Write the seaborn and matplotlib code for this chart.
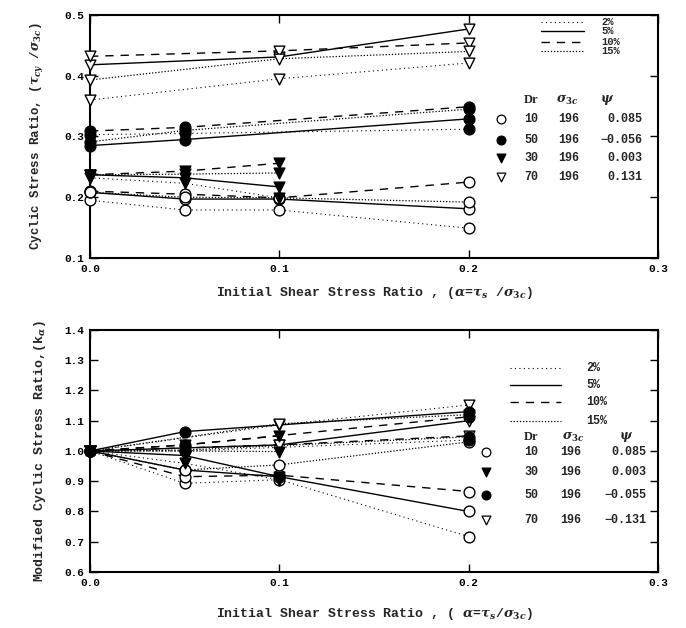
import numpy as np
import pandas as pd
import matplotlib
matplotlib.use('Agg')
import matplotlib.pyplot as plt
import seaborn as sns

### values
strains = ['2%', '5%', '10%', '15%']

# alpha positions for each relative density
alpha_dr10 = [0.0, 0.05, 0.1, 0.2]
alpha_dr50 = [0.0, 0.05, 0.2]
alpha_dr30 = [0.0, 0.05, 0.1]
alpha_dr70 = [0.0, 0.1, 0.2]

# cyclic stress ratio (top panel)
csr_dr10 = {'2%': [0.195, 0.179, 0.179, 0.149], '5%': [0.208, 0.197, 0.197, 0.181],
            '10%': [0.210, 0.205, 0.199, 0.225], '15%': [0.208, 0.200, 0.199, 0.192]}
csr_dr50 = {'2%': [0.303, 0.305, 0.312], '5%': [0.285, 0.295, 0.329],
            '10%': [0.309, 0.315, 0.349], '15%': [0.291, 0.310, 0.345]}
csr_dr30 = {'2%': [0.232, 0.223, 0.199], '5%': [0.237, 0.232, 0.217],
            '10%': [0.237, 0.243, 0.256], '15%': [0.237, 0.238, 0.240]}
csr_dr70 = {'2%': [0.360, 0.395, 0.421], '5%': [0.418, 0.431, 0.477],
            '10%': [0.432, 0.441, 0.454], '15%': [0.393, 0.428, 0.440]}

# modified cyclic stress ratio k_alpha (bottom panel)
ka_dr10 = {'2%': [1.0, 0.893, 0.905, 0.717], '5%': [1.0, 0.937, 0.915, 0.800],
           '10%': [1.0, 0.915, 0.920, 0.866], '15%': [1.0, 0.937, 0.954, 1.030]}
ka_dr30 = {'2%': [1.0, 0.959, 0.905], '5%': [1.0, 0.985, 0.915],
           '10%': [1.0, 1.020, 1.050], '15%': [1.0, 1.000, 0.998]}
ka_dr50 = {'2%': [1.0, 1.000, 1.036], '5%': [1.0, 1.064, 1.130],
           '10%': [1.0, 1.020, 1.113], '15%': [1.0, 1.003, 1.047]}
ka_dr70 = {'2%': [1.0, 1.086, 1.152], '5%': [1.0, 1.020, 1.100],
           '10%': [1.0, 1.020, 1.050], '15%': [1.0, 1.090, 1.120]}

top_rows = [('10', '196', '0.085'), ('50', '196', '\u22120.056'),
            ('30', '196', '0.003'), ('70', '196', '0.131')]
bot_rows = [('10', '196', '0.085'), ('30', '196', '0.003'),
            ('50', '196', '\u22120.055'), ('70', '196', '\u22120.131')]
top_row_dr = [10, 50, 30, 70]
bot_row_dr = [10, 30, 50, 70]

xticks = [0.0, 0.1, 0.2, 0.3]
top_yticks = [0.1, 0.2, 0.3, 0.4, 0.5]
bot_yticks = [0.6, 0.7, 0.8, 0.9, 1.0, 1.1, 1.2, 1.3, 1.4]

# styles
dash_map = {'2%': (1, 3), '5%': '', '10%': (6, 5), '15%': (1, 1.5)}
lw_map = {'2%': 0.8, '5%': 1.0, '10%': 1.0, '15%': 0.9}
mk = {10: ('o', 'white'), 50: ('o', 'black'), 30: ('v', 'black'), 70: ('v', 'white')}
alphas = {10: alpha_dr10, 50: alpha_dr50, 30: alpha_dr30, 70: alpha_dr70}


def to_long(tables):
    rows = []
    for dr, tab in tables.items():
        for s in strains:
            for a, v in zip(alphas[dr], tab[s]):
                rows.append({'Dr': dr, 'strain': s, 'alpha': a, 'val': v})
    return pd.DataFrame(rows)


df_top = to_long({10: csr_dr10, 50: csr_dr50, 30: csr_dr30, 70: csr_dr70})
df_bot = to_long({10: ka_dr10, 50: ka_dr50, 30: ka_dr30, 70: ka_dr70})

sns.set_style('ticks')
plt.rcParams['font.family'] = ['Liberation Mono', 'DejaVu Sans']
plt.rcParams['font.weight'] = 'bold'
plt.rcParams['mathtext.fontset'] = 'dejavuserif'

fig = plt.figure(figsize=(6.86, 6.28), dpi=100)
ax1 = fig.add_axes([0.1312, 0.5892, 0.828, 0.3869])
ax2 = fig.add_axes([0.1312, 0.0892, 0.828, 0.3854])


def draw(ax, df):
    for s in strains:
        sub = df[df.strain == s]
        sns.lineplot(data=sub, x='alpha', y='val', units='Dr', estimator=None, sort=False,
                     color='black', lw=lw_map[s], dashes=False, legend=False, ax=ax,
                     linestyle='-' if s == '5%' else (0, dash_map[s]))
    # filled markers last so they sit on top where points coincide
    for dr in [70, 10, 30, 50]:
        sub = df[df.Dr == dr]
        m, fc = mk[dr]
        sns.scatterplot(data=sub, x='alpha', y='val', marker=m, color=fc, edgecolor='black',
                        s=60, linewidth=1.0, legend=False, ax=ax, zorder=3, clip_on=False)


def legend_block(ax, ly, lx, tx, hy, hx, ry, mx, cx, rows, row_dr, lfs):
    for s, y in zip(strains, ly):
        st = '-' if s == '5%' else (0, dash_map[s])
        ax.plot(lx, [y, y], color='black', lw=lw_map[s], linestyle=st)
        ax.text(tx, y, s, ha='left', va='center', fontsize=lfs, fontweight='bold')
    ax.text(hx[0], hy, 'Dr', ha='center', va='center', fontsize=9, family='Liberation Serif',
            fontweight='bold')
    ax.text(hx[1], hy, r'$\sigma_{3c}$', ha='center', va='center', fontsize=9)
    ax.text(hx[2], hy, r'$\psi$', ha='center', va='center', fontsize=9)
    for (a, b, c), dr, y in zip(rows, row_dr, ry):
        m, fc = mk[dr]
        ax.scatter([mx], [y], marker=m, color=fc, edgecolor='black', s=40, linewidth=0.9)
        ax.text(cx[0], y, a, ha='center', va='center', fontsize=8.5, fontweight='bold')
        ax.text(cx[1], y, b, ha='center', va='center', fontsize=8.5, fontweight='bold')
        ax.text(cx[2], y, c, ha='right', va='center', fontsize=8.5, fontweight='bold')


draw(ax1, df_top)
draw(ax2, df_bot)

legend_block(ax1, [0.489, 0.473, 0.456, 0.440], [0.238, 0.261], 0.270,
             0.360, [0.233, 0.252, 0.273], [0.329, 0.294, 0.264, 0.233], 0.217,
             [0.233, 0.253, 0.292], top_rows, top_row_dr, 7.5)
legend_block(ax2, [1.275, 1.218, 1.162, 1.100], [0.222, 0.249], 0.262,
             1.046, [0.233, 0.255, 0.283], [0.997, 0.931, 0.855, 0.772], 0.209,
             [0.233, 0.254, 0.294], bot_rows, bot_row_dr, 8.5)

for ax, yt, lim in [(ax1, top_yticks, (0.1, 0.5)), (ax2, bot_yticks, (0.6, 1.4))]:
    ax.set_xlim(0, 0.3)
    ax.set_ylim(*lim)
    ax.set_xticks(xticks)
    ax.set_xticklabels(['%.1f' % v for v in xticks], fontweight='bold')
    ax.set_yticks(yt)
    ax.set_yticklabels(['%.1f' % v for v in yt], fontweight='bold')
    ax.tick_params(direction='in', top=True, right=True, length=6, width=1.0,
                   labelsize=8, pad=4, colors='black')
    for sp in ax.spines.values():
        sp.set_linewidth(1.5)
        sp.set_color('black')

ax1.set_ylabel(r'Cyclic Stress Ratio, ($\tau_{cy}$ /$\sigma_{3c}$)', fontsize=9, labelpad=14,
               fontweight='bold')
ax1.set_xlabel(r'Initial Shear Stress Ratio , ($\alpha$=$\tau_s$ /$\sigma_{3c}$)', fontsize=9.5,
               labelpad=8, fontweight='bold')
ax2.set_ylabel(r'Modified Cyclic Stress Ratio,(k$_\alpha$)', fontsize=9.5, labelpad=12,
               fontweight='bold')
ax2.set_xlabel(r'Initial Shear Stress Ratio , ( $\alpha$=$\tau_s$/$\sigma_{3c}$)', fontsize=9.5,
               labelpad=13, fontweight='bold')

plt.savefig('out.png', dpi=100)
